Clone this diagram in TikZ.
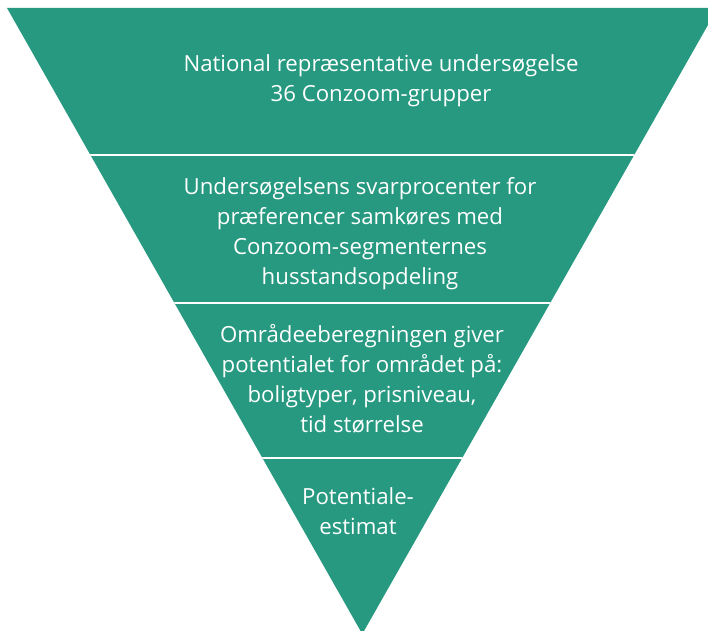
\documentclass[tikz,border=0pt]{standalone}
\usepackage{fontspec}
\setmainfont{Open Sans}

\definecolor{funnelgreen}{RGB}{38,153,128}

\tikzset{
  level text/.style={text=white, align=center, inner sep=0pt,
    font=\fontsize{22.2}{30}\selectfont},
  level gap/.style={draw=white, line width=1.8pt}
}

\begin{document}
\begin{tikzpicture}[x=1pt,y=1pt]
  \useasboundingbox (0,0) rectangle (708,630);
  \clip (0,0) rectangle (708,630);

  % funnel body
  \coordinate (TL) at (7,622);
  \coordinate (TR) at (717.6,622);
  \coordinate (tip) at (362.3,-4);
  \fill[funnelgreen] (TL) -- (TR) -- (tip) -- cycle;

  % white gaps between the levels
  \begin{scope}
    \clip (TL) -- (TR) -- (tip) -- cycle;
    \coordinate (g1l) at (0,475);   \coordinate (g1r) at (720,475);
    \coordinate (g2l) at (0,327);   \coordinate (g2r) at (720,327);
    \coordinate (g3l) at (0,172);   \coordinate (g3r) at (720,172);
    \path[level gap] (g1l) -- (g1r);
    \path[level gap] (g2l) -- (g2r);
    \path[level gap] (g3l) -- (g3r);
  \end{scope}

  \node[level text] (survey) at (381,549.5) {National repræsentative undersøgelse\\36 Conzoom-grupper};
  \node[level text] (match) at (360,396) {Undersøgelsens svarprocenter for\\præferencer samkøres med\\Conzoom-segmenternes\\husstandsopdeling};
  \node[level text] (area) at (362,251) {Områdeeberegningen giver\\potentialet for området på:\\boligtyper, prisniveau,\\tid størrelse};
  \node[level text] (estimate) at (358,119) {Potentiale-\\estimat};

\end{tikzpicture}
\end{document}
